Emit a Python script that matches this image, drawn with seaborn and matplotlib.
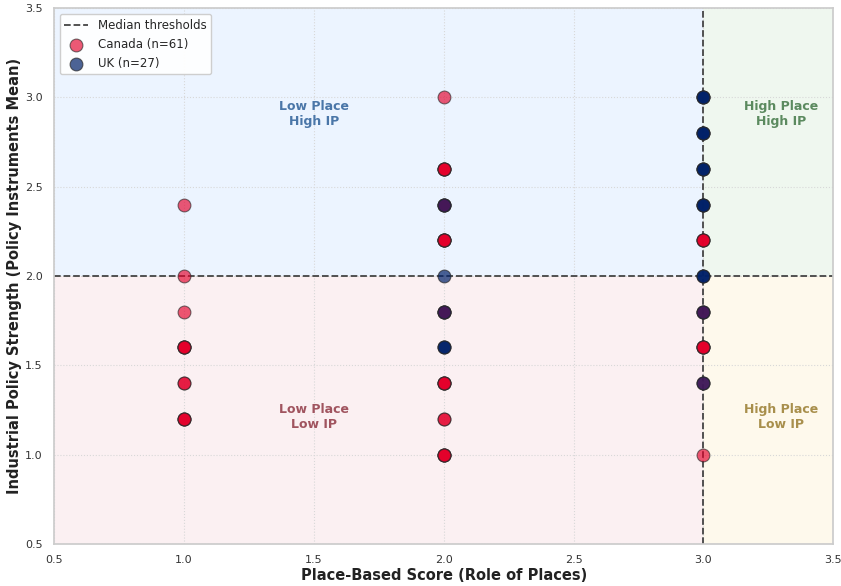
import numpy as np
import pandas as pd
import matplotlib
matplotlib.use("Agg")
import matplotlib.pyplot as plt
import seaborn as sns

# Score combinations and number of cases at each (place score, IP mean)
canada_place = [1, 1, 1, 1, 1, 1,
                2, 2, 2, 2, 2, 2, 2, 2,
                3, 3, 3, 3, 3]
canada_ip = [2.4, 2.0, 1.8, 1.6, 1.4, 1.2,
             3.0, 2.6, 2.4, 2.2, 1.8, 1.4, 1.2, 1.0,
             2.2, 1.8, 1.6, 1.4, 1.0]
canada_count = [1, 1, 1, 5, 2, 4,
                1, 5, 4, 6, 4, 5, 2, 5,
                4, 3, 5, 2, 1]

uk_place = [2, 2, 2, 2,
            3, 3, 3, 3, 3, 3, 3]
uk_ip = [2.4, 2.0, 1.8, 1.6,
         3.0, 2.8, 2.6, 2.4, 2.0, 1.8, 1.4]
uk_count = [1, 1, 1, 3,
            4, 4, 4, 4, 3, 1, 1]

place_median = 3.0
ip_median = 2.0

canada = pd.DataFrame({
    "place": np.repeat(canada_place, canada_count),
    "ip": np.repeat(canada_ip, canada_count),
})
uk = pd.DataFrame({
    "place": np.repeat(uk_place, uk_count),
    "ip": np.repeat(uk_ip, uk_count),
})

sns.set_theme(style="whitegrid")
plt.rcParams["font.family"] = ["DejaVu Sans"]

fig, ax = plt.subplots(figsize=(8.41, 5.86), dpi=100)
fig.subplots_adjust(left=0.064, right=0.991, top=0.986, bottom=0.072)

xmin, xmax, ymin, ymax = 0.5, 3.5, 0.5, 3.5

# Quadrant shading
ax.fill_between([xmin, place_median], ip_median, ymax, color="#ECF4FF", zorder=0, lw=0)
ax.fill_between([xmin, place_median], ymin, ip_median, color="#FBF0F2", zorder=0, lw=0)
ax.fill_between([place_median, xmax], ip_median, ymax, color="#EFF7EF", zorder=0, lw=0)
ax.fill_between([place_median, xmax], ymin, ip_median, color="#FEF9EC", zorder=0, lw=0)

ax.grid(True, linestyle=":", color="#d8d8d8", linewidth=0.8, zorder=0.5)
ax.set_axisbelow(True)

sns.scatterplot(data=canada, x="place", y="ip", ax=ax, color="#E4002B", alpha=0.65,
                s=85, edgecolor="#2a2a2a", linewidth=0.8,
                label=f"Canada (n={len(canada)})", zorder=3)
sns.scatterplot(data=uk, x="place", y="ip", ax=ax, color="#012169", alpha=0.7,
                s=85, edgecolor="#2a2a2a", linewidth=0.8,
                label=f"UK (n={len(uk)})", zorder=4)

ax.axvline(place_median, color="#444444", linestyle="--", linewidth=1.3, zorder=2)
ax.axhline(ip_median, color="#444444", linestyle="--", linewidth=1.3, zorder=2,
           label="Median thresholds")

quad_kw = dict(ha="center", va="center", fontsize=9, fontweight="bold", zorder=5)
ax.text(1.5, 2.91, "Low Place\nHigh IP", color="#4A76A8", **quad_kw)
ax.text(1.5, 1.21, "Low Place\nLow IP", color="#A0545F", **quad_kw)
ax.text(3.3, 2.91, "High Place\nHigh IP", color="#5B8A5F", **quad_kw)
ax.text(3.3, 1.21, "High Place\nLow IP", color="#A88F4C", **quad_kw)

ax.set_xlim(xmin, xmax)
ax.set_ylim(ymin, ymax)
ax.set_xticks(np.arange(0.5, 3.51, 0.5))
ax.set_yticks(np.arange(0.5, 3.51, 0.5))
ax.tick_params(labelsize=8, colors="#333333", pad=2)
ax.set_xlabel("Place-Based Score (Role of Places)", fontsize=10.5, fontweight="bold",
              color="#222222", labelpad=2)
ax.set_ylabel("Industrial Policy Strength (Policy Instruments Mean)", fontsize=10.5,
              fontweight="bold", color="#222222", labelpad=2)
for sp in ax.spines.values():
    sp.set_color("#cccccc")

handles, labels = ax.get_legend_handles_labels()
order = [labels.index("Median thresholds"),
         labels.index(f"Canada (n={len(canada)})"),
         labels.index(f"UK (n={len(uk)})")]
ax.legend([handles[i] for i in order], [labels[i] for i in order],
          loc="upper left", fontsize=8.5, frameon=True, framealpha=0.95,
          facecolor="white", edgecolor="#cccccc")

fig.savefig("out.png", dpi=100)
